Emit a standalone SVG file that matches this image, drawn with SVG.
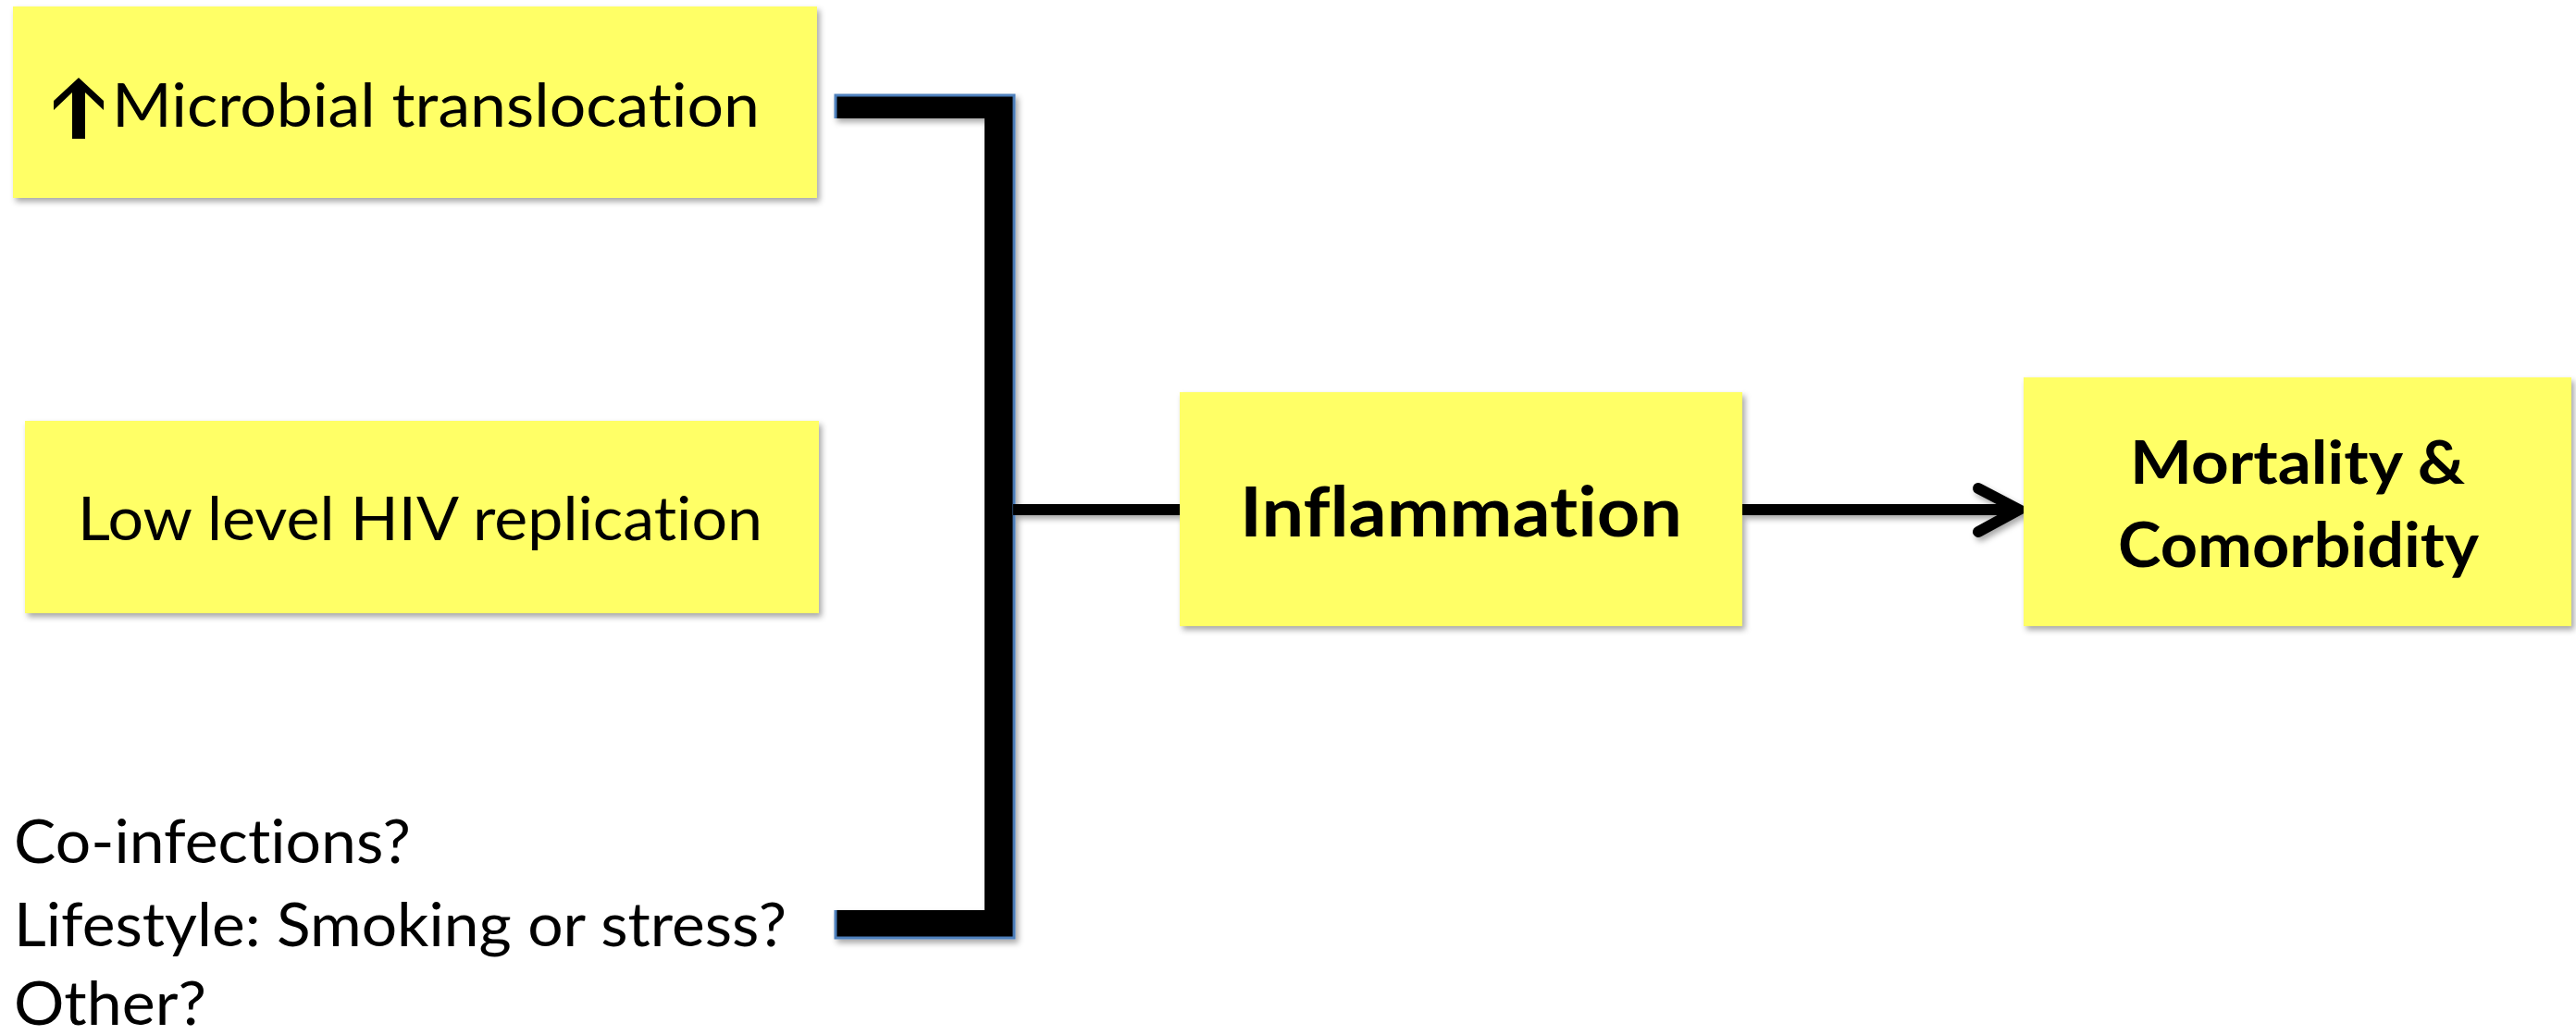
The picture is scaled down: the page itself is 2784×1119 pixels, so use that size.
<svg xmlns="http://www.w3.org/2000/svg" width="2784" height="1119" viewBox="0 0 2784 1119">
<defs>
<filter id="sh" x="-10%" y="-10%" width="130%" height="130%">
<feDropShadow dx="3" dy="4" stdDeviation="3" flood-color="#000" flood-opacity="0.35"/>
</filter>
<style>
.box{fill:#FFFF66;filter:url(#sh);}
.t{font-family:Lato,"Open Sans","Liberation Sans",sans-serif;font-size:66px;fill:#000;font-variant-ligatures:none;}
.b{font-family:Lato,"Open Sans","Liberation Sans",sans-serif;font-weight:bold;fill:#000;font-variant-ligatures:none;}
</style>
</defs>
<rect width="2784" height="1119" fill="#fff"/>
<g id="connectors" filter="url(#sh)">
<polygon points="903,103 1096,103 1096,1014 903,1014 903,984 1064,984 1064,128 903,128" fill="#000"/>
<path d="M903,128 V103 H1096 V1014 H903 V984" fill="none" stroke="#4F81BD" stroke-width="3"/>
<line x1="1095" y1="551" x2="1275" y2="551" stroke="#000" stroke-width="12"/>
<line x1="1883" y1="551" x2="2180" y2="551" stroke="#000" stroke-width="12"/>
<polyline points="2138,528 2182,551 2138,575" fill="none" stroke="#000" stroke-width="12" stroke-linecap="round" stroke-linejoin="miter"/>
</g>
<g id="node-microbial">
<rect class="box" x="14" y="7" width="869" height="207"/>
<polygon points="85,84 112,109 112,119 92,100 92,150 78,150 78,100 58,119 58,109" fill="#000"/>
<text class="t" x="121" y="137" textLength="700" lengthAdjust="spacingAndGlyphs">Microbial translocation</text>
</g>
<g id="node-hiv">
<rect class="box" x="27" y="455" width="858" height="208"/>
<text class="t" x="84" y="584" textLength="740" lengthAdjust="spacingAndGlyphs">Low level HIV replication</text>
</g>
<g id="node-other">
<text class="t" x="15" y="933" textLength="429" lengthAdjust="spacingAndGlyphs">Co-infections?</text>
<text class="t" x="15" y="1023" textLength="835" lengthAdjust="spacingAndGlyphs">Lifestyle: Smoking or stress?</text>
<text class="t" x="15" y="1108" textLength="208" lengthAdjust="spacingAndGlyphs">Other?</text>
</g>
<g id="node-inflammation">
<rect class="box" x="1275" y="424" width="608" height="253"/>
<text class="b" x="1340" y="580" font-size="75" textLength="478" lengthAdjust="spacingAndGlyphs">Inflammation</text>
</g>
<g id="node-mortality">
<rect class="box" x="2187" y="408" width="592" height="269"/>
<text class="b" x="2302" y="523" font-size="65" textLength="362" lengthAdjust="spacingAndGlyphs">Mortality &amp;</text>
<text class="b" x="2289" y="613" font-size="66" textLength="390" lengthAdjust="spacingAndGlyphs">Comorbidity</text>
</g>
</svg>
